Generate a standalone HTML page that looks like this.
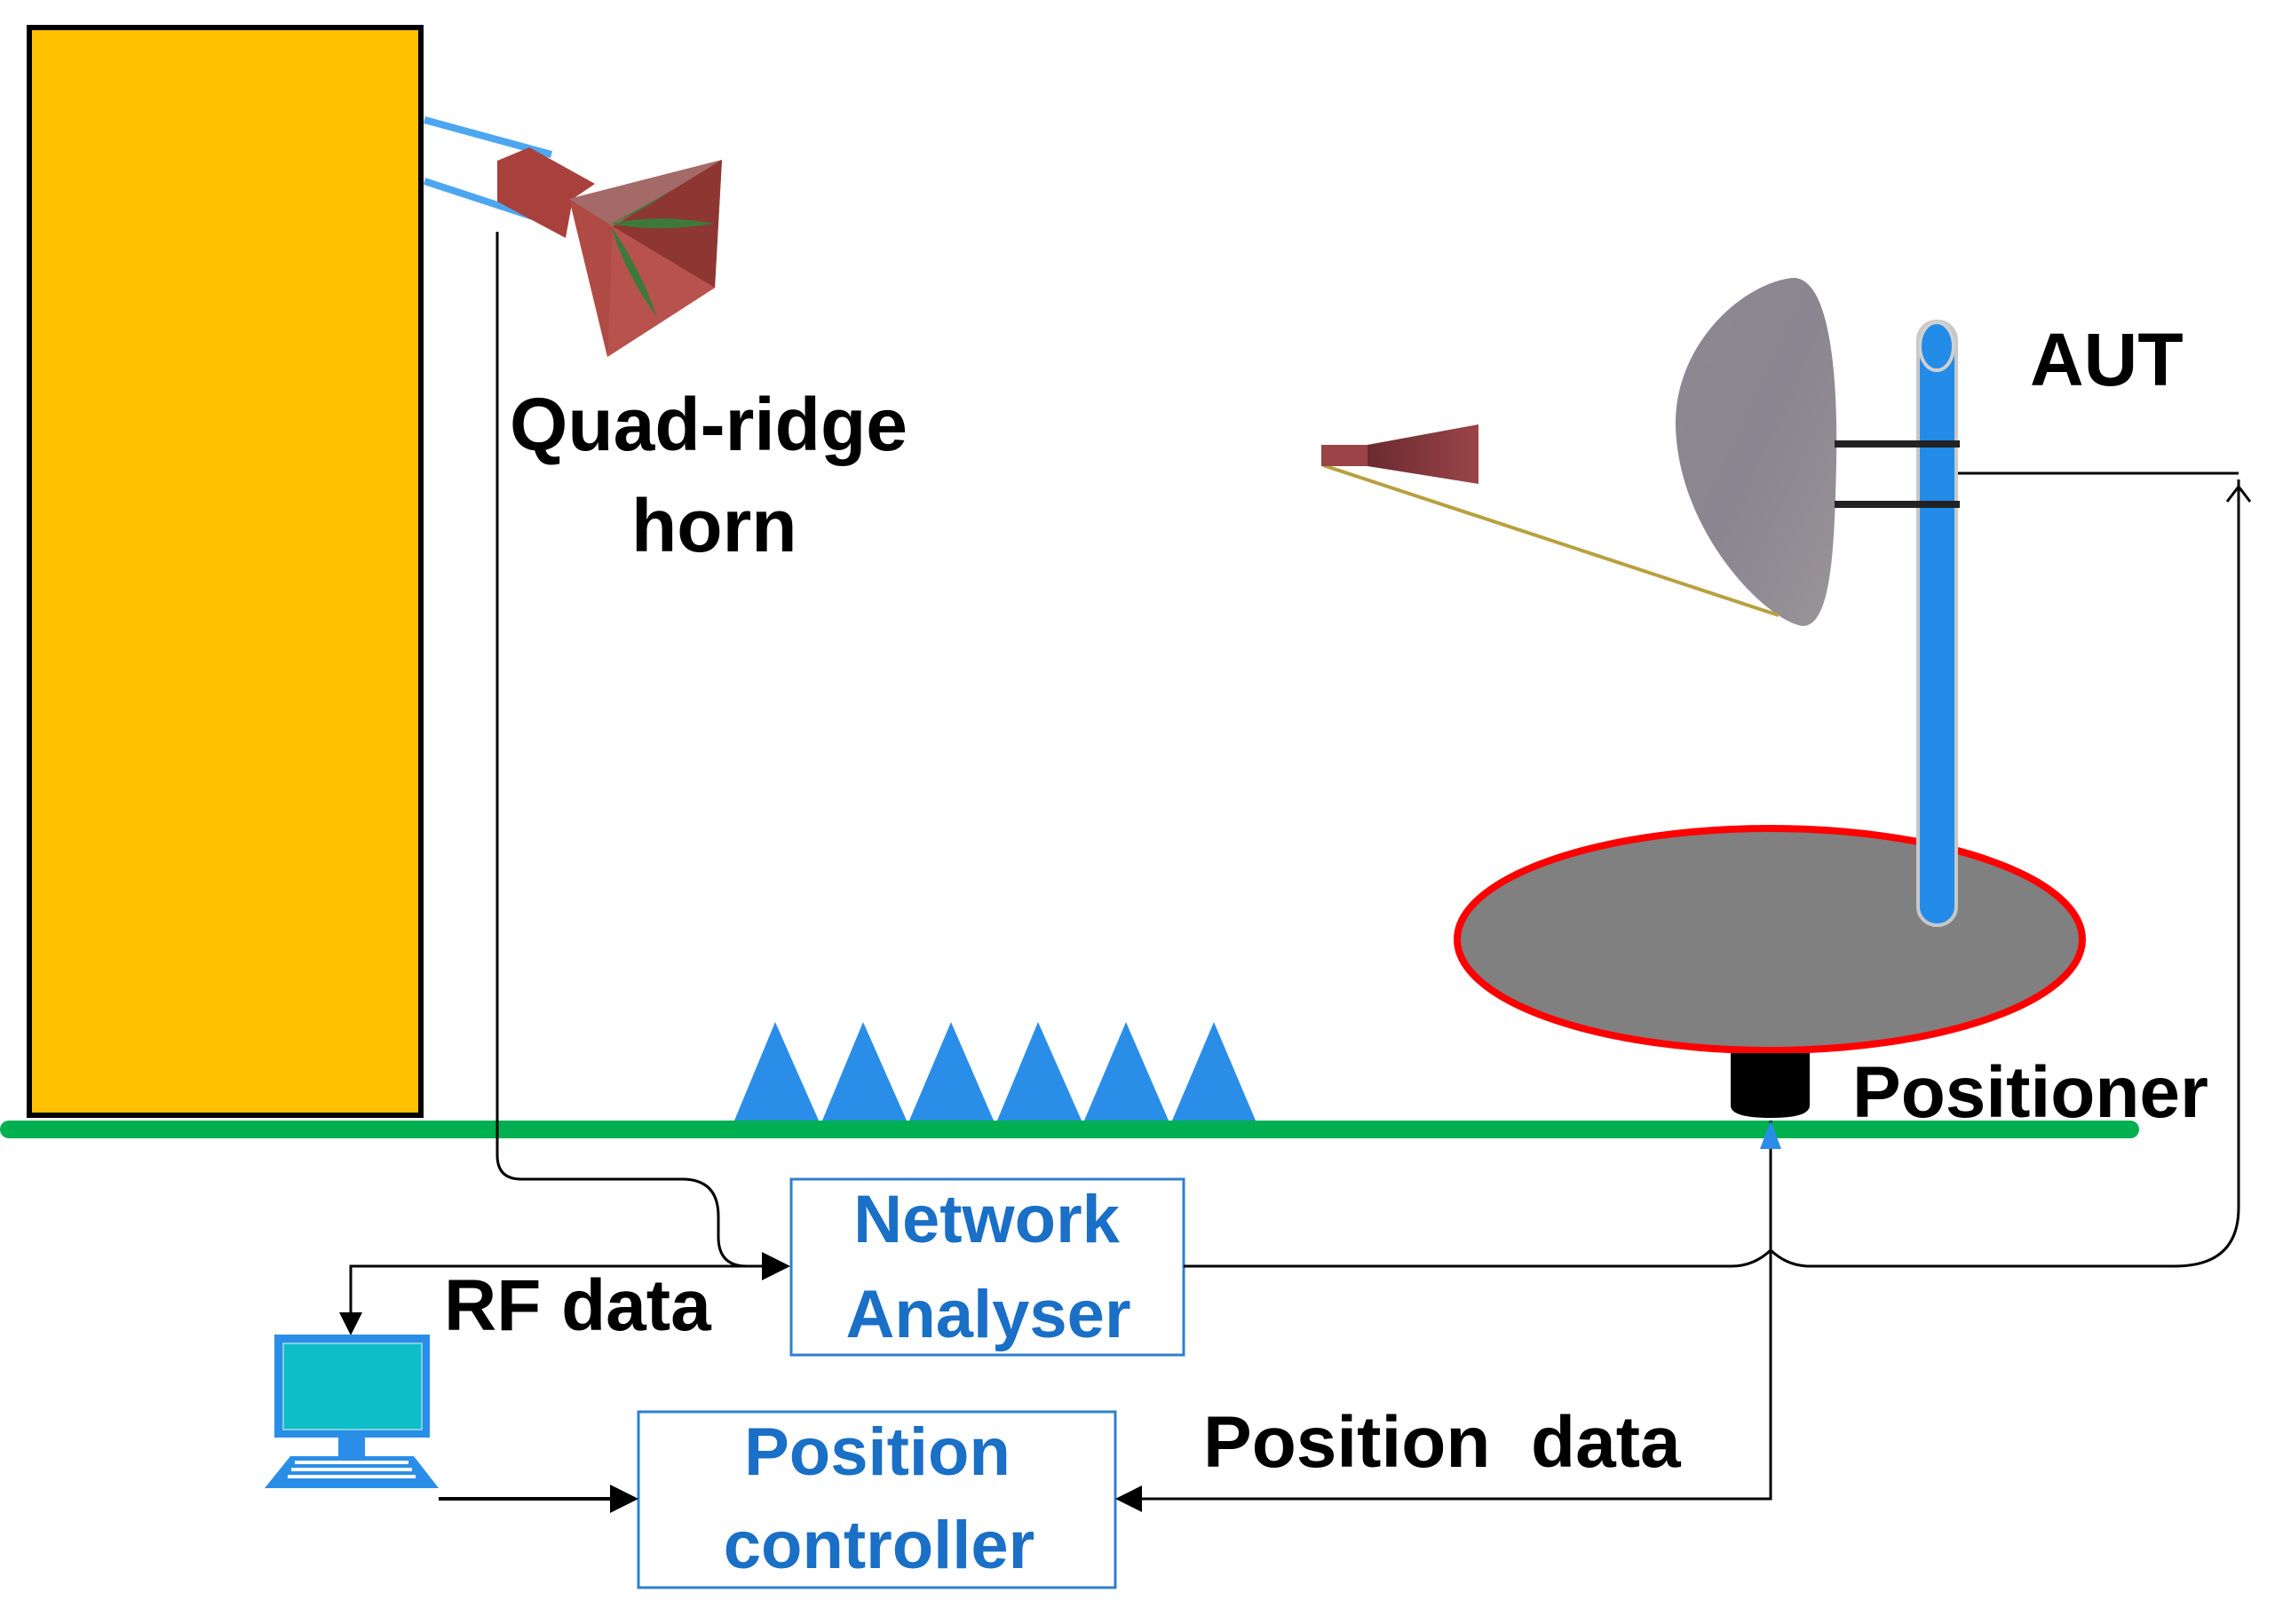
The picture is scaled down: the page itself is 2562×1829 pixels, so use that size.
<!DOCTYPE html>
<html><head><meta charset="utf-8"><style>
html,body{margin:0;padding:0;background:#fff;}
svg{display:block;}
text{font-family:"Liberation Sans",sans-serif;font-weight:bold;}
</style></head><body>
<svg width="2562" height="1829" viewBox="0 0 2562 1829" xmlns="http://www.w3.org/2000/svg">
<defs>
<linearGradient id="dish" x1="0" y1="0" x2="1" y2="1">
<stop offset="0" stop-color="#8e8890"/><stop offset="0.5" stop-color="#8a8590"/><stop offset="1" stop-color="#9a9598"/>
</linearGradient>
<linearGradient id="feed" x1="0" y1="0" x2="1" y2="0">
<stop offset="0" stop-color="#6a2a30"/><stop offset="1" stop-color="#9a4448"/>
</linearGradient>
</defs>
<!-- yellow block -->
<rect x="33" y="31" width="441" height="1225" fill="#ffc000" stroke="#000" stroke-width="6"/>
<!-- green ground -->
<line x1="10" y1="1272" x2="2399" y2="1272" stroke="#00b050" stroke-width="20" stroke-linecap="round"/>
<!-- absorbers -->
<g fill="#2a8ee8">
<polygon points="827,1262 873,1151 922,1262"/>
<polygon points="926,1262 972,1151 1021,1262"/>
<polygon points="1024,1262 1071,1151 1119,1262"/>
<polygon points="1123,1262 1169,1151 1218,1262"/>
<polygon points="1221,1262 1268,1151 1316,1262"/>
<polygon points="1320,1262 1367,1151 1414,1262"/>
</g>
<!-- cables -->
<line x1="478" y1="135" x2="621" y2="174" stroke="#4da6f0" stroke-width="8"/>
<line x1="478" y1="204" x2="600" y2="244" stroke="#4da6f0" stroke-width="8"/>
<!-- quad ridge horn -->
<polygon points="560,181 596,166 670,207 645,224 637,268 560,227" fill="#a8413c"/>
<polygon points="641,224 813,180 805,324 684,402" fill="#b04a44"/>
<polygon points="641,224 813,180 690,255" fill="#a46a68"/>
<polygon points="690,255 813,180 805,324" fill="#8e3632"/>
<polygon points="690,255 805,324 684,402" fill="#b8524c"/>
<path d="M688 252 Q740 240 805 252 Q740 262 688 252Z" fill="#3d7a3a"/>
<path d="M688 255 Q720 300 740 357 Q705 310 688 255Z" fill="#3d7a3a"/>
<path d="M688 252 Q730 230 755 215 Q720 240 688 252Z" fill="#3d7a3a"/>
<!-- feed line from horn -->
<path d="M560 261 L560 1301 Q560 1328 587 1328 L768 1328 Q809 1328 809 1370 L809 1393 Q809 1426 841 1426" fill="none" stroke="#000" stroke-width="3"/>
<!-- RF data line -->
<path d="M395 1496 L395 1426 L870 1426" fill="none" stroke="#000" stroke-width="3"/>
<polygon points="890,1426 858,1410 858,1442" fill="#000"/>
<polygon points="395,1504 382,1478 408,1478" fill="#000"/>
<!-- Network Analyser box -->
<rect x="891" y="1328" width="442" height="198" fill="#fff" stroke="#2e7fd0" stroke-width="3"/>
<text x="1111" y="1399" font-size="76" fill="#1a6fc6" text-anchor="middle">Network</text>
<text x="1113" y="1506" font-size="76" fill="#1a6fc6" text-anchor="middle">Analyser</text>
<!-- Position controller box -->
<rect x="719" y="1590" width="537" height="198" fill="#fff" stroke="#2e7fd0" stroke-width="3"/>
<text x="988" y="1661" font-size="76" fill="#1a6fc6" text-anchor="middle">Position</text>
<text x="990" y="1766" font-size="76" fill="#1a6fc6" text-anchor="middle">controller</text>
<!-- computer -->
<rect x="309" y="1503" width="175" height="116" fill="#2a8ee8"/>
<rect x="319" y="1513" width="156" height="97" fill="#0dbec8" stroke="#7fd0e0" stroke-width="2"/>
<rect x="381" y="1619" width="30" height="21" fill="#2a8ee8"/>
<polygon points="327,1640 466,1640 494,1676 298,1676" fill="#2a8ee8"/>
<g fill="#fff">
<rect x="332" y="1645" width="128" height="4"/><rect x="328" y="1653" width="136" height="4"/><rect x="324" y="1661" width="144" height="4"/>
</g>
<line x1="494" y1="1688" x2="700" y2="1688" stroke="#000" stroke-width="4"/>
<polygon points="719,1688 687,1672 687,1704" fill="#000"/>
<!-- position data line -->
<path d="M1994 1262 L1994 1688 L1275 1688" fill="none" stroke="#000" stroke-width="3"/>
<polygon points="1256,1688 1286,1673 1286,1703" fill="#000"/>
<polygon points="1994,1262 1982,1294 2006,1294" fill="#2a8ee8"/>
<!-- NA output to AUT -->
<path d="M1333 1426 L1950 1426 Q1975 1426 1994 1408 Q2013 1426 2038 1426 L2449 1426 Q2521 1426 2521 1360 L2521 540" fill="none" stroke="#000" stroke-width="3"/>
<path d="M2203 533 L2521 533" fill="none" stroke="#000" stroke-width="3"/>
<path d="M2508 565 L2521 548 L2534 565" fill="none" stroke="#000" stroke-width="3"/>
<!-- turntable -->
<ellipse cx="1993" cy="1058" rx="352" ry="125" fill="#808080" stroke="#ff0000" stroke-width="8"/>
<path d="M1949 1186 L2038 1186 L2038 1245 Q2038 1259 1994 1259 Q1949 1259 1949 1245Z" fill="#000"/>
<!-- mast -->
<rect x="2160" y="362" width="43" height="680" rx="21" fill="#238be8" stroke="#c8c8c8" stroke-width="4"/>
<ellipse cx="2181" cy="390" rx="19" ry="27" fill="#238be8" stroke="#d0d0d0" stroke-width="4"/>
<!-- dish -->
<path d="M2018 313 C2060 310 2070 420 2068 520 C2066 620 2062 705 2030 705 C1990 700 1890 600 1887 480 C1885 390 1960 320 2018 313Z" fill="url(#dish)"/>
<line x1="2066" y1="500" x2="2207" y2="500" stroke="#222" stroke-width="8"/>
<line x1="2066" y1="568" x2="2207" y2="568" stroke="#222" stroke-width="8"/>
<!-- feed -->
<line x1="1490" y1="524" x2="2003" y2="693" stroke="#b8a040" stroke-width="4"/>
<rect x="1488" y="501" width="54" height="24" fill="#9a4448"/>
<polygon points="1540,501 1665,478 1665,545 1540,525" fill="url(#feed)"/>
<!-- labels -->
<text x="574" y="507" font-size="84" fill="#000">Quad-ridge</text>
<text x="711" y="621" font-size="84" fill="#000">horn</text>
<text x="2286" y="434" font-size="84" fill="#000">AUT</text>
<text x="2086" y="1258" font-size="82" fill="#000">Positioner</text>
<text x="500" y="1498" font-size="82" fill="#000">RF data</text>
<text x="1355" y="1652" font-size="82" fill="#000" xml:space="preserve">Position  data</text>
</svg>
</body></html>
